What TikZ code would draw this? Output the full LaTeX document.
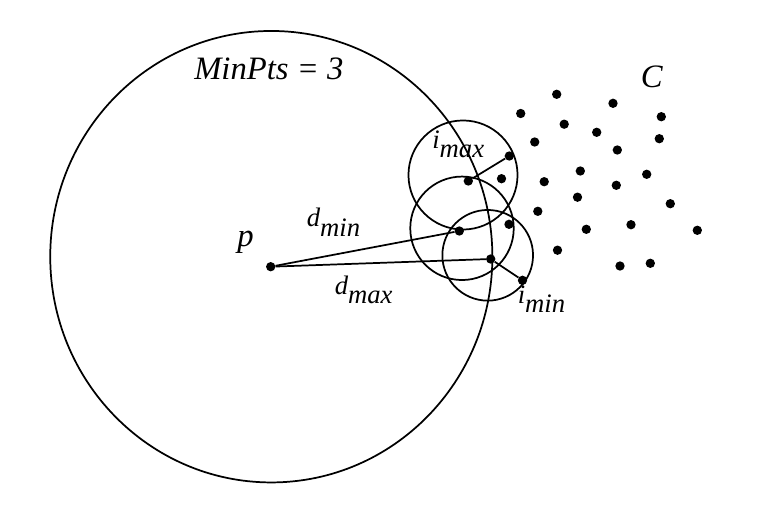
\documentclass[tikz,border=0pt]{standalone}
\usepackage{fontspec}
\setmainfont{Liberation Serif}
\tikzstyle{dot} = [circle, fill=black, inner sep=0pt, minimum size=7pt]
\tikzstyle{bigtext} = [font=\fontsize{24.5}{28}\selectfont\itshape, inner sep=0pt, anchor=base west]
\tikzstyle{smalltext} = [font=\fontsize{20}{23}\selectfont\itshape, inner sep=0pt, anchor=base west]
\tikzstyle{line} = [line width=1.3pt]
\newcommand{\lowsub}[1]{\raisebox{-7pt}{#1}}
\begin{document}
\begin{tikzpicture}[x=0.75pt, y=-0.75pt]
           \useasboundingbox (0,0) rectangle (766,524);
           \draw [line] (271.3,256.7) ellipse [x radius=165.8pt, y radius=169.3pt];
           \draw [line] (463,175) circle [radius=40.9pt];
           \draw [line] (462,228.3) circle [radius=38.8pt];
           \draw [line] (487.7,255.3) circle [radius=34pt];

           \node (p) [dot] at (270.7,266.7) {};
           \node (dmin) [dot] at (459.3,231) {};
           \node (dmax) [dot] at (490.7,259) {};
           \node (imaxa) [dot] at (468.3,181) {};
           \node (imaxb) [dot] at (509.3,156) {};
           \node (imin) [dot] at (522.5,280.3) {};
           \node (c1) [dot] at (556.7,94.3) {};
           \node (c2) [dot] at (520.7,113.5) {};
           \node (c3) [dot] at (613,103.3) {};
           \node (c4) [dot] at (661.3,116.7) {};
           \node (c5) [dot] at (564.2,124.2) {};
           \node (c6) [dot] at (596.7,132.3) {};
           \node (c7) [dot] at (534.7,142) {};
           \node (c8) [dot] at (659.3,138.7) {};
           \node (c9) [dot] at (617.3,150) {};
           \node (c10) [dot] at (501.5,178.7) {};
           \node (c11) [dot] at (580.3,171) {};
           \node (c12) [dot] at (544.2,181.7) {};
           \node (c13) [dot] at (646.7,174.3) {};
           \node (c14) [dot] at (616.3,185.3) {};
           \node (c15) [dot] at (577.5,197.2) {};
           \node (c16) [dot] at (670.3,203.7) {};
           \node (c17) [dot] at (537.8,211.3) {};
           \node (c18) [dot] at (509,224.3) {};
           \node (c19) [dot] at (586.3,229.3) {};
           \node (c20) [dot] at (631,224.7) {};
           \node (c21) [dot] at (697.3,230.3) {};
           \node (c22) [dot] at (557.5,250.2) {};
           \node (c23) [dot] at (620,266) {};
           \node (c24) [dot] at (650.3,263.3) {};

           \node (minpts) [bigtext] at (194,80) {MinPts = 3};
           \node (plabel) [bigtext] at (237,246.5) {p};
           \node (clabel) [bigtext] at (640.5,88) {C};
           \node (dminlabel) [smalltext] at (306.5,226.7) {d\lowsub{min}};
           \node (dmaxlabel) [smalltext] at (334.5,294.3) {d\lowsub{max}};
           \node (imaxlabel) [smalltext] at (432,148.3) {i\lowsub{max}};
           \node (iminlabel) [smalltext] at (517.5,303.3) {i\lowsub{min}};

           \draw [line] (p) -- (dmin);
           \draw [line] (p) -- (dmax);
           \draw [line] (imaxa) -- (imaxb);
           \draw [line] (dmax) -- (imin);
        \end{tikzpicture}
\end{document}
